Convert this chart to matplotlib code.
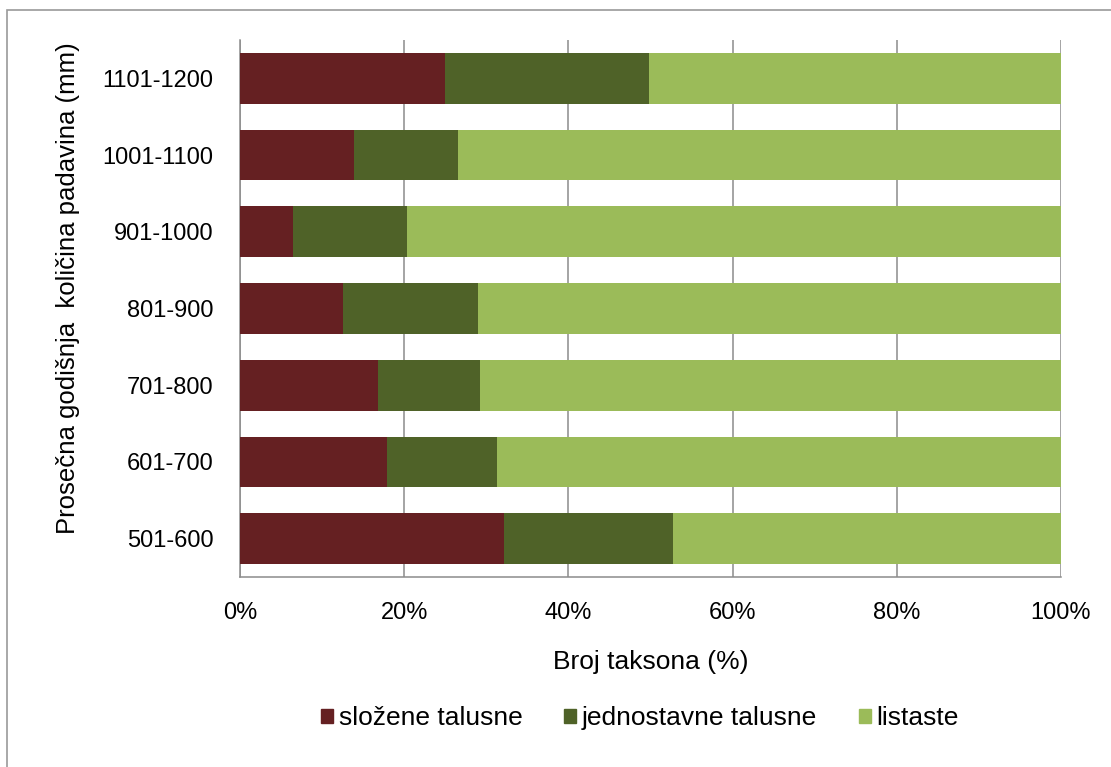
import numpy as np
import matplotlib
matplotlib.use('Agg')
import matplotlib.pyplot as plt
from matplotlib.patches import Patch, Rectangle

plt.rcParams['font.family'] = ['Liberation Sans', 'DejaVu Sans']

# data (% per precipitation class)
categories = ['501-600', '601-700', '701-800', '801-900', '901-1000', '1001-1100', '1101-1200']
slozene = [32.2, 17.9, 16.8, 12.5, 6.5, 13.9, 25.0]
jednostavne = [20.5, 13.4, 12.4, 16.5, 13.9, 12.6, 24.8]
listaste = [47.3, 68.7, 70.8, 71.0, 79.6, 73.5, 50.2]
series_names = ['složene talusne', 'jednostavne talusne', 'listaste']
colors = ['#652022', '#4f6228', '#9bbb59']

W, H = 1111, 767
fig = plt.figure(figsize=(W / 100, H / 100), dpi=100)
ax = fig.add_axes([240 / W, 1 - 577 / H, (1061 - 240) / W, (577 - 40) / H])

y = np.arange(len(categories))
left = np.zeros(len(categories))
for vals, name, c in zip([slozene, jednostavne, listaste], series_names, colors):
    ax.barh(y, vals, left=left, height=0.66, color=c, label=name, zorder=3)
    left += np.array(vals)

ax.set_xlim(0, 100)
ax.set_ylim(-0.5, len(categories) - 0.5)
ax.set_yticks(y)
ax.set_yticklabels(categories)
ax.set_xticks(np.arange(0, 101, 20))
ax.set_xticklabels([f'{v}%' for v in range(0, 101, 20)])
ax.tick_params(axis='both', length=0, labelsize=17)
ax.tick_params(axis='x', pad=18)
ax.tick_params(axis='y', pad=19)

ax.xaxis.grid(True, color='#8c8c8c', linewidth=1.1, zorder=0)
for s in ['top', 'right']:
    ax.spines[s].set_visible(False)
for s in ['left', 'bottom']:
    ax.spines[s].set_color('#8c8c8c')
    ax.spines[s].set_linewidth(1.1)

ax.set_xlabel('Broj taksona (%)', fontsize=19, va='center')
ax.xaxis.set_label_coords(0.5, (577 - 662) / 537)
ax.set_ylabel('Prosečna godišnja  količina padavina (mm)', fontsize=18.5, va='center')
ax.yaxis.set_label_coords((68 - 240) / 821, (577 - 288) / 537)

handles = [Patch(color=c) for c in colors]
fig.legend(handles, series_names, loc='center', bbox_to_anchor=(640 / W, 1 - 718 / H),
           ncol=3, frameon=False, fontsize=19, handlelength=0.45, handleheight=0.45,
           handletextpad=0.2, columnspacing=1.6)

# chart area border (only top and left visible in the crop)
fig.patches.append(Rectangle((7 / W, -0.1), 1.2, 1 - 10 / H + 0.1, transform=fig.transFigure,
                             fill=False, edgecolor='#9a9a9a', linewidth=1.2))

fig.savefig('out.png', dpi=100)
